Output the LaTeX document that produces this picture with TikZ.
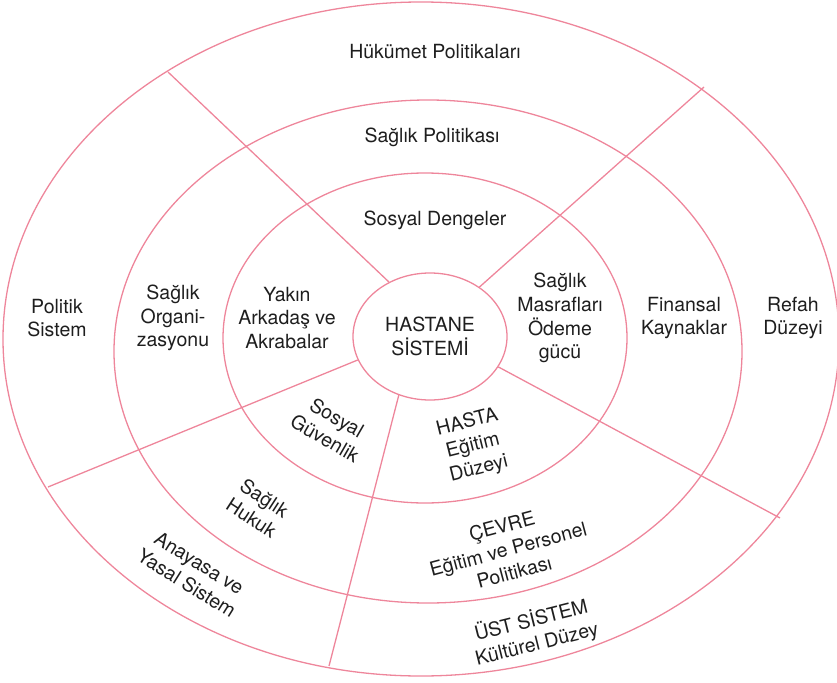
\documentclass[tikz,border=0pt]{standalone}
\usepackage{fontspec}
\setmainfont{TeX Gyre Heros}
\usetikzlibrary{shapes.geometric}
\definecolor{ringpink}{RGB}{238,134,155}
\definecolor{txt}{RGB}{30,30,30}
\begin{document}
\begin{tikzpicture}[x=1pt,y=-1pt,
  ring/.style={draw=ringpink,line width=1.3pt},
  spoke/.style={draw=ringpink,line width=1.3pt},
  lbl/.style={align=center,text=txt,font=\fontsize{19.5}{23.8}\selectfont,inner sep=0pt}]
\useasboundingbox (0,0) rectangle (837,682);
% rings
\draw[ring] (421,339) ellipse [x radius=418pt, y radius=337pt];
\draw[ring] (428,351.5) ellipse [x radius=314pt, y radius=251.5pt];
\draw[ring] (425,338) ellipse [x radius=202pt, y radius=165pt];
\node[ring,ellipse,minimum width=154pt,minimum height=127pt,inner sep=0pt,lbl] (hs) at (430,336.5) {HASTANE\\SİSTEMİ};
% spoke ends
\coordinate (o1) at (168,72);
\coordinate (o2) at (704,87);
\coordinate (o3) at (48,487);
\coordinate (o4) at (329,666);
\coordinate (o5) at (780,518);
\draw[spoke] (hs.127.6) -- (o1);
\draw[spoke] (hs.45.8) -- (o2);
\draw[spoke] (hs.198.6) -- (o3);
\draw[spoke] (hs.242.1) -- (o4);
\draw[spoke] (hs.336.5) -- (o5);
% labels
\node[lbl] (t1) at (435,52) {Hükümet Politikaları};
\node[lbl] (t2) at (432,137) {Sağlık Politikası};
\node[lbl] (t3) at (435,220) {Sosyal Dengeler};
\node[lbl] (t4) at (57,318) {Politik\\Sistem};
\node[lbl] (t5) at (173,318) {Sağlık\\Organi-\\zasyonu};
\node[lbl] (t6) at (287,318) {Yakın\\Arkadaş ve\\Akrabalar};
\node[lbl] (t7) at (560,318) {Sağlık\\Masrafları\\Ödeme\\gücü};
\node[lbl] (t8) at (684,318) {Finansal\\Kaynaklar};
\node[lbl] (t9) at (793,318) {Refah\\Düzeyi};
\node[lbl,rotate=-30] (t10) at (331,428) {Sosyal\\Güvenlik};
\node[lbl,rotate=-33] (t11) at (258,508) {Sağlık\\Hukuk};
\node[lbl,rotate=-32] (t12) at (193,573) {Anayasa ve\\Yasal Sistem};
\node[lbl,rotate=14] (t13) at (473,446) {HASTA\\Eğitim\\Düzeyi};
\node[lbl,rotate=15] (t14) at (508,549) {ÇEVRE\\Eğitim ve Personel\\Politikası};
\node[lbl,rotate=14] (t15) at (534,632) {ÜST SİSTEM\\Kültürel Düzey};
\end{tikzpicture}
\end{document}
